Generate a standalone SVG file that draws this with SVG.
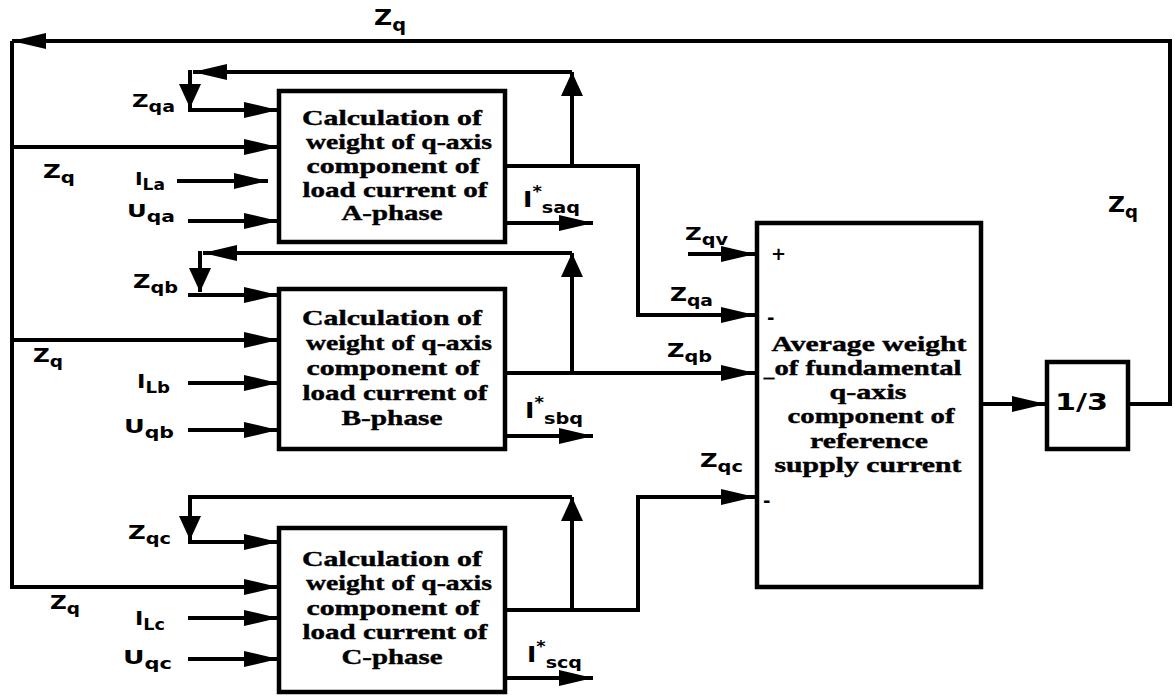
<svg xmlns="http://www.w3.org/2000/svg" width="1175" height="696" viewBox="0 0 1175 696">
<style>
.box{fill:#fff;stroke:#000;stroke-width:4.5}
.ln{fill:none;stroke:#000;stroke-width:4}
.a{marker-end:url(#ah)}
.v{marker-end:url(#av)}
.bt{font-family:"Liberation Serif","Times New Roman",serif;font-weight:bold;font-size:21px;text-anchor:middle;fill:#000;stroke:#000;stroke-width:0.4}
.lb{font-family:"DejaVu Sans","Liberation Sans",sans-serif;font-weight:bold;fill:#000}
</style>
<defs>
<marker id="ah" markerUnits="userSpaceOnUse" markerWidth="34" markerHeight="16" refX="34" refY="8" orient="auto"><path d="M0,0 L34,8 L0,16 z" fill="#000"/></marker>
<marker id="av" markerUnits="userSpaceOnUse" markerWidth="24" markerHeight="24" refX="24" refY="12" orient="auto"><path d="M0,1 L24,12 L0,23 z" fill="#000"/></marker>
</defs>
<rect width="1175" height="696" fill="#fff"/>
<g id="connectors">
<path class="ln a" d="M1128,404 H1170 V41 H12"/>
<path class="ln a" d="M12,41 V587 H278"/>
<path class="ln a" d="M12,147 H278"/>
<path class="ln a" d="M12,340 H278"/>
<path class="ln v" d="M572,166 V72"/>
<path class="ln a" d="M572,72 H193"/>
<path class="ln v" d="M190,70 V108"/>
<path class="ln a" d="M188,110 H278"/>
<path class="ln a" d="M177,181 H268"/>
<path class="ln a" d="M188,221 H278"/>
<path class="ln a" d="M505,166 H638 V315 H755"/>
<path class="ln a" d="M505,223 H593"/>
<path class="ln v" d="M572,373 V253"/>
<path class="ln a" d="M572,253 H203"/>
<path class="ln v" d="M200,251 V292"/>
<path class="ln a" d="M188,295 H278"/>
<path class="ln a" d="M188,383 H278"/>
<path class="ln a" d="M188,430 H278"/>
<path class="ln a" d="M505,373 H755"/>
<path class="ln a" d="M505,436 H593"/>
<path class="ln v" d="M572,610 V497"/>
<path class="ln v" d="M572,497 H190 V540"/>
<path class="ln a" d="M188,542 H278"/>
<path class="ln a" d="M188,618 H278"/>
<path class="ln a" d="M188,659 H278"/>
<path class="ln a" d="M505,610 H638 V497 H755"/>
<path class="ln a" d="M505,678 H593"/>
<path class="ln a" d="M688,254 H755"/>
<path class="ln a" d="M981,404 H1046"/>
</g>
<g id="blockA">
<rect class="box" x="279" y="91" width="226" height="151"/>
<text class="bt" x="392" y="125" textLength="180" lengthAdjust="spacingAndGlyphs">Calculation of</text>
<text class="bt" x="399" y="149" textLength="186" lengthAdjust="spacingAndGlyphs">weight of q-axis</text>
<text class="bt" x="393" y="173" textLength="173" lengthAdjust="spacingAndGlyphs">component of</text>
<text class="bt" x="395" y="197" textLength="185" lengthAdjust="spacingAndGlyphs">load current of</text>
<text class="bt" x="392" y="220" textLength="101" lengthAdjust="spacingAndGlyphs">A-phase</text>
</g>
<g id="blockB">
<rect class="box" x="279" y="289" width="226" height="160"/>
<text class="bt" x="392" y="325" textLength="180" lengthAdjust="spacingAndGlyphs">Calculation of</text>
<text class="bt" x="399" y="350" textLength="186" lengthAdjust="spacingAndGlyphs">weight of q-axis</text>
<text class="bt" x="393" y="375" textLength="173" lengthAdjust="spacingAndGlyphs">component of</text>
<text class="bt" x="395" y="400" textLength="185" lengthAdjust="spacingAndGlyphs">load current of</text>
<text class="bt" x="392" y="425" textLength="101" lengthAdjust="spacingAndGlyphs">B-phase</text>
</g>
<g id="blockC">
<rect class="box" x="279" y="528" width="226" height="164"/>
<text class="bt" x="392" y="566" textLength="180" lengthAdjust="spacingAndGlyphs">Calculation of</text>
<text class="bt" x="399" y="590" textLength="186" lengthAdjust="spacingAndGlyphs">weight of q-axis</text>
<text class="bt" x="393" y="615" textLength="173" lengthAdjust="spacingAndGlyphs">component of</text>
<text class="bt" x="395" y="639" textLength="185" lengthAdjust="spacingAndGlyphs">load current of</text>
<text class="bt" x="392" y="664" textLength="101" lengthAdjust="spacingAndGlyphs">C-phase</text>
</g>
<g id="average">
<rect class="box" x="757" y="223" width="224" height="364"/>
<text class="bt" x="869" y="351" textLength="195" lengthAdjust="spacingAndGlyphs">Average weight</text>
<text class="bt" x="868" y="375" textLength="187" lengthAdjust="spacingAndGlyphs">of fundamental</text>
<text class="bt" x="868" y="399" textLength="77" lengthAdjust="spacingAndGlyphs">q-axis</text>
<text class="bt" x="871" y="423" textLength="167" lengthAdjust="spacingAndGlyphs">component of</text>
<text class="bt" x="869" y="448" textLength="118" lengthAdjust="spacingAndGlyphs">reference</text>
<text class="bt" x="868" y="472" textLength="187" lengthAdjust="spacingAndGlyphs">supply current</text>
<text class="lb" x="771" y="260" font-size="18">+</text>
<text class="lb" x="767" y="324" font-size="18">-</text>
<text class="bt" x="769" y="376" font-size="18">_</text>
<text class="lb" x="763" y="507" font-size="18">-</text>
</g>
<g id="gain">
<rect class="box" x="1047" y="362" width="81" height="87"/>
<text class="lb" x="1055" y="410" font-size="23" textLength="53" lengthAdjust="spacingAndGlyphs">1/3</text>
</g>
<g id="labels">
<text class="lb" x="374" y="25" font-size="22" textLength="32" lengthAdjust="spacingAndGlyphs">Z<tspan dy="6" font-size="17">q</tspan></text>
<text class="lb" x="1108" y="212" font-size="22" textLength="30" lengthAdjust="spacingAndGlyphs">Z<tspan dy="6" font-size="17">q</tspan></text>
<text class="lb" x="43" y="178" font-size="20" textLength="32" lengthAdjust="spacingAndGlyphs">Z<tspan dy="5" font-size="16">q</tspan></text>
<text class="lb" x="33" y="362" font-size="20" textLength="30" lengthAdjust="spacingAndGlyphs">Z<tspan dy="5" font-size="16">q</tspan></text>
<text class="lb" x="50" y="609" font-size="20" textLength="30" lengthAdjust="spacingAndGlyphs">Z<tspan dy="5" font-size="16">q</tspan></text>
<text class="lb" x="132" y="107" font-size="18" textLength="43" lengthAdjust="spacingAndGlyphs">Z<tspan dy="5" font-size="15">qa</tspan></text>
<text class="lb" x="135" y="185" font-size="18" textLength="30" lengthAdjust="spacingAndGlyphs">I<tspan dy="5" font-size="15">La</tspan></text>
<text class="lb" x="127" y="217" font-size="18" textLength="48" lengthAdjust="spacingAndGlyphs">U<tspan dy="5" font-size="15">qa</tspan></text>
<text class="lb" x="133" y="288" font-size="20" textLength="45" lengthAdjust="spacingAndGlyphs">Z<tspan dy="5" font-size="16">qb</tspan></text>
<text class="lb" x="137" y="388" font-size="20" textLength="33" lengthAdjust="spacingAndGlyphs">I<tspan dy="5" font-size="16">Lb</tspan></text>
<text class="lb" x="124" y="433" font-size="20" textLength="50" lengthAdjust="spacingAndGlyphs">U<tspan dy="5" font-size="16">qb</tspan></text>
<text class="lb" x="128" y="539" font-size="19" textLength="43" lengthAdjust="spacingAndGlyphs">Z<tspan dy="5" font-size="15">qc</tspan></text>
<text class="lb" x="135" y="625" font-size="19" textLength="30" lengthAdjust="spacingAndGlyphs">I<tspan dy="5" font-size="15">Lc</tspan></text>
<text class="lb" x="123" y="664" font-size="19" textLength="49" lengthAdjust="spacingAndGlyphs">U<tspan dy="5" font-size="15">qc</tspan></text>
<text class="lb" x="523" y="207" font-size="21" textLength="57" lengthAdjust="spacingAndGlyphs">I<tspan dy="-10" font-size="15">*</tspan><tspan dy="16" font-size="16">saq</tspan></text>
<text class="lb" x="525" y="418" font-size="21" textLength="58" lengthAdjust="spacingAndGlyphs">I<tspan dy="-10" font-size="15">*</tspan><tspan dy="16" font-size="16">sbq</tspan></text>
<text class="lb" x="527" y="662" font-size="21" textLength="55" lengthAdjust="spacingAndGlyphs">I<tspan dy="-10" font-size="15">*</tspan><tspan dy="16" font-size="16">scq</tspan></text>
<text class="lb" x="685" y="240" font-size="18" textLength="43" lengthAdjust="spacingAndGlyphs">Z<tspan dy="5" font-size="15">qv</tspan></text>
<text class="lb" x="670" y="301" font-size="20" textLength="43" lengthAdjust="spacingAndGlyphs">Z<tspan dy="5" font-size="16">qa</tspan></text>
<text class="lb" x="667" y="357" font-size="20" textLength="45" lengthAdjust="spacingAndGlyphs">Z<tspan dy="5" font-size="16">qb</tspan></text>
<text class="lb" x="700" y="467" font-size="20" textLength="43" lengthAdjust="spacingAndGlyphs">Z<tspan dy="5" font-size="16">qc</tspan></text>
</g>
</svg>
